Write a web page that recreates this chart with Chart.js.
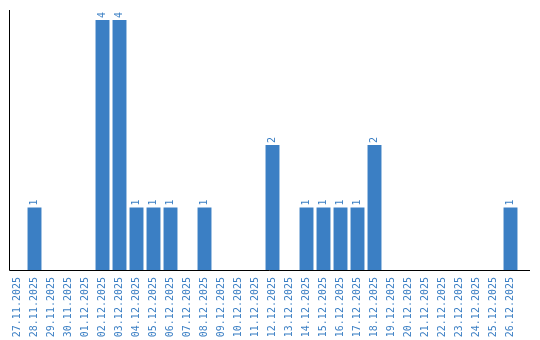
<!DOCTYPE html>
<html><head><meta charset="utf-8">
<script src="https://cdn.jsdelivr.net/npm/chart.js@4/dist/chart.umd.min.js"></script>
<style>html,body{margin:0;padding:0;background:#fff}#w{width:540px;height:340px}</style>
</head><body><div id="w"><canvas id="c"></canvas></div>
<script>
const categories = ["27.11.2025","28.11.2025","29.11.2025","30.11.2025","01.12.2025","02.12.2025","03.12.2025","04.12.2025","05.12.2025","06.12.2025","07.12.2025","08.12.2025","09.12.2025","10.12.2025","11.12.2025","12.12.2025","13.12.2025","14.12.2025","15.12.2025","16.12.2025","17.12.2025","18.12.2025","19.12.2025","20.12.2025","21.12.2025","22.12.2025","23.12.2025","24.12.2025","25.12.2025","26.12.2025"];
const counts = [0,1,0,0,0,4,4,1,1,1,0,1,0,0,0,2,0,1,1,1,1,2,0,0,0,0,0,0,0,1];
const BLUE = '#3b7fc4';
const FONT = '"DejaVu Sans Mono", monospace';

const extras = {
  id: 'extras',
  afterDatasetsDraw(chart) {
    const ctx = chart.ctx, a = chart.chartArea;
    ctx.save();
    ctx.strokeStyle = '#000'; ctx.lineWidth = 1;
    ctx.beginPath();
    ctx.moveTo(a.left + 0.5, a.top); ctx.lineTo(a.left + 0.5, a.bottom + 0.5);
    ctx.lineTo(a.right + 11, a.bottom + 0.5);
    ctx.stroke();
    ctx.fillStyle = BLUE; ctx.font = '10px ' + FONT;
    ctx.textAlign = 'left'; ctx.textBaseline = 'middle';
    chart.getDatasetMeta(0).data.forEach((bar, i) => {
      const v = counts[i];
      if (!v) return;
      ctx.save();
      ctx.translate(bar.x, bar.y - 2);
      ctx.rotate(-Math.PI / 2);
      ctx.fillText(String(v), 0, 0);
      ctx.restore();
    });
    ctx.restore();
  }
};

new Chart(document.getElementById('c'), {
  type: 'bar',
  data: { labels: categories, datasets: [{ data: counts, backgroundColor: BLUE, borderWidth: 0,
    categoryPercentage: 1, barPercentage: 0.82 }] },
  options: {
    responsive: true, maintainAspectRatio: false, animation: false,
    layout: { padding: { left: 9, top: 10, right: 21, bottom: 0 } },
    plugins: { legend: { display: false }, tooltip: { enabled: false } },
    scales: {
      x: {
        grid: { display: false, drawTicks: false }, border: { display: false },
        afterFit(scale) { scale.height = 70; },
        ticks: { color: BLUE, font: { family: FONT, size: 10 }, minRotation: 90, maxRotation: 90, autoSkip: false, padding: 7 }
      },
      y: { display: false, min: 0, max: 4.16 }
    }
  },
  plugins: [extras]
});
</script>
</body></html>
